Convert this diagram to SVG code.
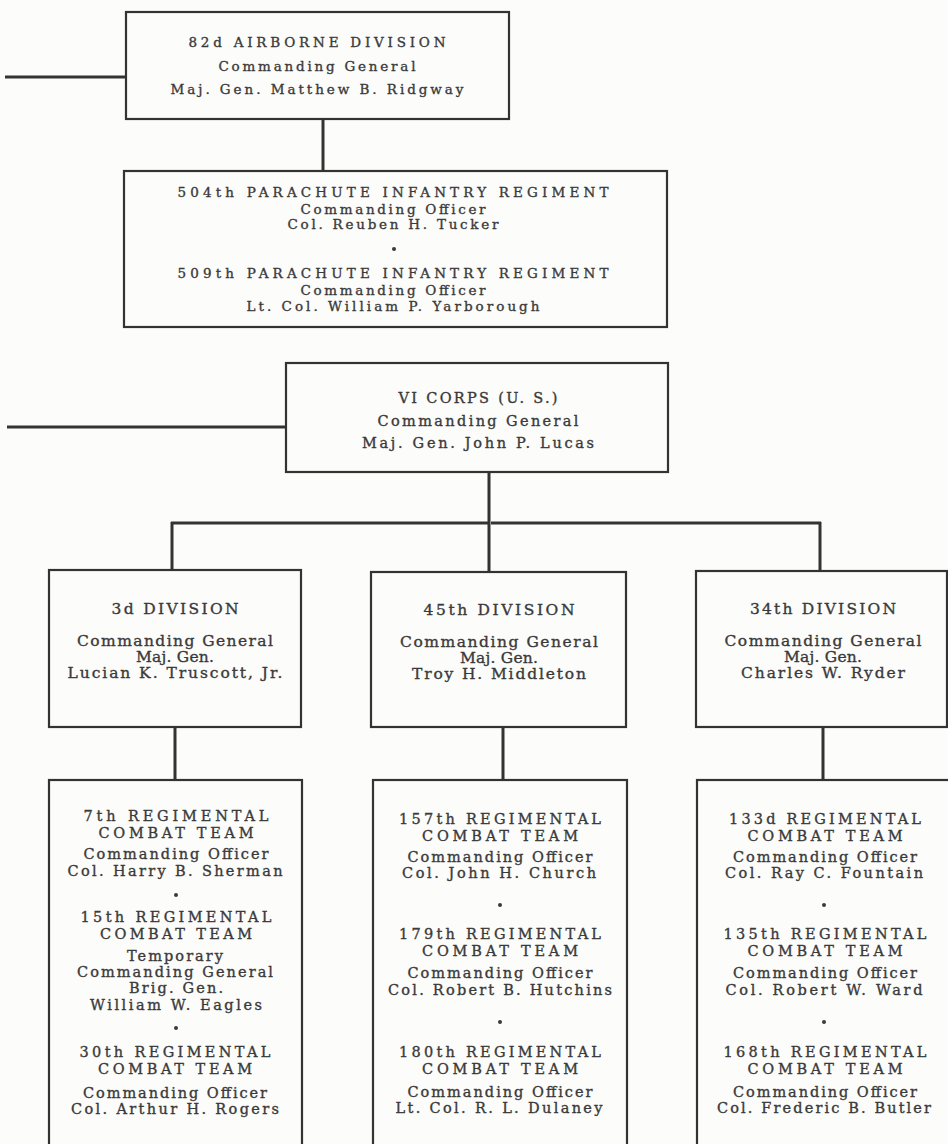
<svg xmlns="http://www.w3.org/2000/svg" width="948" height="1144" viewBox="0 0 948 1144">
<style>
.bg{fill:#fcfcfa}
.box{fill:none;stroke:#333;stroke-width:2.2}
.ln{fill:none;stroke:#333;stroke-width:3}
text{font-family:"DejaVu Serif","Liberation Serif",serif;fill:#3a3a3a;stroke:#3a3a3a;stroke-width:0.35;text-anchor:middle}
.s13{font-size:13.5px}
.s14{font-size:14.5px}
.sv{font-size:14.5px}
.s145{font-size:15.5px}
.dot{fill:#3a3a3a}
</style>
<rect class="bg" x="0" y="0" width="948" height="1144"/>
<g id="connectors">
<line class="ln" x1="5" y1="77" x2="126" y2="77"/>
<line class="ln" x1="323" y1="119" x2="323" y2="171"/>
<line class="ln" x1="7" y1="427" x2="286" y2="427"/>
<line class="ln" x1="489" y1="472" x2="489" y2="572"/>
<line class="ln" x1="171" y1="523" x2="489" y2="523"/>
<line class="ln" x1="491" y1="523" x2="821" y2="523"/>
<line class="ln" x1="172" y1="522" x2="172" y2="570"/>
<line class="ln" x1="820" y1="522" x2="820" y2="571"/>
<line class="ln" x1="175" y1="727" x2="175" y2="780"/>
<line class="ln" x1="503" y1="727" x2="503" y2="780"/>
<line class="ln" x1="823" y1="727" x2="823" y2="780"/>
</g>
<g id="n82">
<rect class="box" x="126" y="12" width="383" height="107"/>
<text class="s13" x="317" y="47" textLength="257" lengthAdjust="spacing">82d AIRBORNE DIVISION</text>
<text class="s13" x="317" y="71" textLength="197" lengthAdjust="spacing">Commanding General</text>
<text class="s13" x="317" y="94" textLength="293" lengthAdjust="spacing">Maj. Gen. Matthew B. Ridgway</text>
</g>
<g id="n504">
<rect class="box" x="124" y="171" width="543" height="156"/>
<text class="s13" x="393" y="197" textLength="431" lengthAdjust="spacing">504th PARACHUTE INFANTRY REGIMENT</text>
<text class="s13" x="393" y="214" textLength="185" lengthAdjust="spacing">Commanding Officer</text>
<text class="s13" x="393" y="229" textLength="211" lengthAdjust="spacing">Col. Reuben H. Tucker</text>
<circle class="dot" cx="394" cy="249" r="2"/>
<text class="s13" x="393" y="278" textLength="431" lengthAdjust="spacing">509th PARACHUTE INFANTRY REGIMENT</text>
<text class="s13" x="393" y="295" textLength="185" lengthAdjust="spacing">Commanding Officer</text>
<text class="s13" x="393" y="311" textLength="293" lengthAdjust="spacing">Lt. Col. William P. Yarborough</text>
</g>
<g id="n6corps">
<rect class="box" x="286" y="363" width="382" height="109"/>
<text class="sv" x="478" y="403" textLength="159" lengthAdjust="spacing">VI CORPS (U. S.)</text>
<text class="sv" x="478" y="426" textLength="201" lengthAdjust="spacing">Commanding General</text>
<text class="sv" x="478" y="448" textLength="232" lengthAdjust="spacing">Maj. Gen. John P. Lucas</text>
</g>
<g id="d3">
<rect class="box" x="49" y="570" width="252" height="157"/>
<text class="s145" x="175" y="614" textLength="127" lengthAdjust="spacing">3d DIVISION</text>
<text class="s145" x="175" y="646" textLength="196" lengthAdjust="spacing">Commanding General</text>
<text class="s145" x="175" y="662" textLength="78" lengthAdjust="spacing">Maj. Gen.</text>
<text class="s145" x="175" y="678" textLength="215" lengthAdjust="spacing">Lucian K. Truscott, Jr.</text>
</g>
<g id="d45">
<rect class="box" x="371" y="572" width="255" height="155"/>
<text class="s145" x="499" y="615" textLength="151" lengthAdjust="spacing">45th DIVISION</text>
<text class="s145" x="499" y="647" textLength="198" lengthAdjust="spacing">Commanding General</text>
<text class="s145" x="499" y="663" textLength="78" lengthAdjust="spacing">Maj. Gen.</text>
<text class="s145" x="499" y="679" textLength="174" lengthAdjust="spacing">Troy H. Middleton</text>
</g>
<g id="d34">
<rect class="box" x="696" y="571" width="251" height="156"/>
<text class="s145" x="823" y="614" textLength="146" lengthAdjust="spacing">34th DIVISION</text>
<text class="s145" x="823" y="646" textLength="197" lengthAdjust="spacing">Commanding General</text>
<text class="s145" x="823" y="662" textLength="78" lengthAdjust="spacing">Maj. Gen.</text>
<text class="s145" x="823" y="678" textLength="164" lengthAdjust="spacing">Charles W. Ryder</text>
</g>
<g id="r3">
<rect class="box" x="49" y="780" width="253" height="380"/>
<text class="s14" x="176" y="821" textLength="185" lengthAdjust="spacing">7th REGIMENTAL</text>
<text class="s14" x="176" y="838" textLength="155" lengthAdjust="spacing">COMBAT TEAM</text>
<text class="s14" x="176" y="859" textLength="185" lengthAdjust="spacing">Commanding Officer</text>
<text class="s14" x="175" y="876" textLength="215" lengthAdjust="spacing">Col. Harry B. Sherman</text>
<circle class="dot" cx="176" cy="895" r="2"/>
<text class="s14" x="176" y="922" textLength="191" lengthAdjust="spacing">15th REGIMENTAL</text>
<text class="s14" x="176" y="939" textLength="152" lengthAdjust="spacing">COMBAT TEAM</text>
<text class="s14" x="175" y="961" textLength="96" lengthAdjust="spacing">Temporary</text>
<text class="s14" x="175" y="977" textLength="196" lengthAdjust="spacing">Commanding General</text>
<text class="s14" x="176" y="993" textLength="94" lengthAdjust="spacing">Brig. Gen.</text>
<text class="s14" x="176" y="1010" textLength="172" lengthAdjust="spacing">William W. Eagles</text>
<circle class="dot" cx="176" cy="1028" r="2"/>
<text class="s14" x="175" y="1057" textLength="191" lengthAdjust="spacing">30th REGIMENTAL</text>
<text class="s14" x="175" y="1074" textLength="154" lengthAdjust="spacing">COMBAT TEAM</text>
<text class="s14" x="175" y="1098" textLength="184" lengthAdjust="spacing">Commanding Officer</text>
<text class="s14" x="175" y="1114" textLength="208" lengthAdjust="spacing">Col. Arthur H. Rogers</text>
</g>
<g id="r45">
<rect class="box" x="373" y="780" width="254" height="380"/>
<text class="s14" x="500" y="824" textLength="202" lengthAdjust="spacing">157th REGIMENTAL</text>
<text class="s14" x="500" y="841" textLength="156" lengthAdjust="spacing">COMBAT TEAM</text>
<text class="s14" x="500" y="862" textLength="185" lengthAdjust="spacing">Commanding Officer</text>
<text class="s14" x="499" y="878" textLength="194" lengthAdjust="spacing">Col. John H. Church</text>
<circle class="dot" cx="500" cy="905" r="2"/>
<text class="s14" x="500" y="939" textLength="202" lengthAdjust="spacing">179th REGIMENTAL</text>
<text class="s14" x="500" y="956" textLength="156" lengthAdjust="spacing">COMBAT TEAM</text>
<text class="s14" x="500" y="978" textLength="185" lengthAdjust="spacing">Commanding Officer</text>
<text class="s14" x="500" y="995" textLength="224" lengthAdjust="spacing">Col. Robert B. Hutchins</text>
<circle class="dot" cx="500" cy="1022" r="2"/>
<text class="s14" x="500" y="1057" textLength="202" lengthAdjust="spacing">180th REGIMENTAL</text>
<text class="s14" x="500" y="1074" textLength="156" lengthAdjust="spacing">COMBAT TEAM</text>
<text class="s14" x="500" y="1097" textLength="185" lengthAdjust="spacing">Commanding Officer</text>
<text class="s14" x="499" y="1113" textLength="207" lengthAdjust="spacing">Lt. Col. R. L. Dulaney</text>
</g>
<g id="r34">
<rect class="box" x="697" y="780" width="260" height="380"/>
<text class="s14" x="825" y="824" textLength="192" lengthAdjust="spacing">133d REGIMENTAL</text>
<text class="s14" x="825" y="841" textLength="155" lengthAdjust="spacing">COMBAT TEAM</text>
<text class="s14" x="825" y="862" textLength="184" lengthAdjust="spacing">Commanding Officer</text>
<text class="s14" x="824" y="878" textLength="198" lengthAdjust="spacing">Col. Ray C. Fountain</text>
<circle class="dot" cx="824" cy="905" r="2"/>
<text class="s14" x="825" y="939" textLength="203" lengthAdjust="spacing">135th REGIMENTAL</text>
<text class="s14" x="825" y="956" textLength="155" lengthAdjust="spacing">COMBAT TEAM</text>
<text class="s14" x="825" y="978" textLength="184" lengthAdjust="spacing">Commanding Officer</text>
<text class="s14" x="824" y="995" textLength="197" lengthAdjust="spacing">Col. Robert W. Ward</text>
<circle class="dot" cx="824" cy="1022" r="2"/>
<text class="s14" x="825" y="1057" textLength="203" lengthAdjust="spacing">168th REGIMENTAL</text>
<text class="s14" x="825" y="1074" textLength="155" lengthAdjust="spacing">COMBAT TEAM</text>
<text class="s14" x="825" y="1097" textLength="184" lengthAdjust="spacing">Commanding Officer</text>
<text class="s14" x="824" y="1113" textLength="214" lengthAdjust="spacing">Col. Frederic B. Butler</text>
</g>
</svg>
